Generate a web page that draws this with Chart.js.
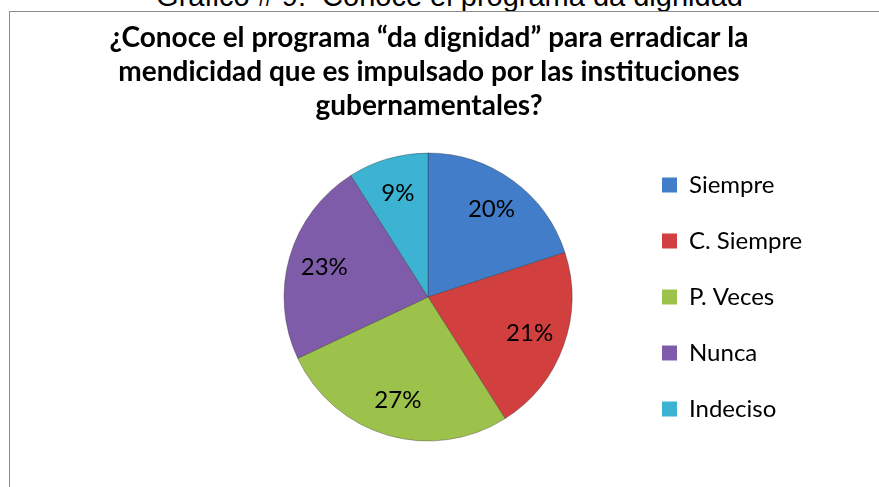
<!DOCTYPE html>
<html>
<head>
<meta charset="utf-8">
<script src="https://cdn.jsdelivr.net/npm/chart.js@4.4.1/dist/chart.umd.min.js"></script>
<style>
  html, body { margin: 0; padding: 0; background: #fff; overflow: hidden; }
  body { width: 879px; height: 487px; position: relative; }
  #caption { position: absolute; left: 0; width: 899px; top: -18.5px; text-align: center;
             font: 29px/29px "Liberation Sans", Arial, sans-serif; white-space: pre; color: #000; }
  #frame { position: absolute; left: 9px; top: 11px; width: 900px; height: 500px;
           border-left: 1px solid #8c8c8c; border-top: 1px solid #8c8c8c; background: #fff; }
  #chart { position: absolute; left: 0; top: 0; }
</style>
</head>
<body>
<div id="caption">Gráfico # 9:  Conoce el programa da dignidad</div>
<div id="frame"></div>
<canvas id="chart" width="879" height="487"></canvas>
<script>
const categories = ['Siempre', 'C. Siempre', 'P. Veces', 'Nunca', 'Indeciso'];
const percentages = [20, 21, 27, 23, 9];
const titleLines = [
  '¿Conoce el programa “da dignidad” para erradicar la',
  'mendicidad que es impulsado por las instituciones',
  'gubernamentales?'
];
const sliceColors = ['#417dc8', '#d1403e', '#9dc24c', '#7f5caa', '#3db3d3'];

// percentage text inside each slice
const pieLabels = {
  id: 'pieLabels',
  afterDatasetsDraw(chart) {
    const ctx = chart.ctx;
    const meta = chart.getDatasetMeta(0);
    ctx.save();
    ctx.font = '24px Lato';
    ctx.fillStyle = '#000';
    ctx.textAlign = 'center';
    ctx.textBaseline = 'middle';
    meta.data.forEach((arc, i) => {
      const p = arc.getProps(['x', 'y', 'startAngle', 'endAngle', 'outerRadius'], true);
      const mid = (p.startAngle + p.endAngle) / 2;
      const r = p.outerRadius * 0.75;
      ctx.fillText(percentages[i] + '%', p.x + Math.cos(mid) * r, p.y + Math.sin(mid) * r);
    });
    ctx.restore();
  }
};

function draw() {
  const baseLabels = (Chart.overrides.pie || Chart.overrides.doughnut).plugins.legend.labels.generateLabels;
  new Chart(document.getElementById('chart'), {
    type: 'pie',
    data: {
      labels: categories,
      datasets: [{
        data: percentages,
        backgroundColor: sliceColors,
        borderColor: 'rgba(40,40,40,0.35)',
        borderWidth: 1,
        radius: 144
      }]
    },
    options: {
      responsive: false,
      animation: false,
      layout: { padding: { left: 46, right: 67, top: 0, bottom: 34 } },
      plugins: {
        tooltip: { enabled: false },
        title: {
          display: true,
          text: titleLines,
          color: '#000',
          font: { family: 'Lato', weight: 'bold', size: 28, lineHeight: '34.3px' },
          padding: { top: 20.5, bottom: 17.6 }
        },
        subtitle: {
          display: true,
          position: 'left',
          text: '',
          padding: 0,
          font: { size: 12, lineHeight: '148px' }
        },
        legend: {
          position: 'right',
          align: 'end',
          fullSize: false,
          maxWidth: 150,
          labels: {
            color: '#000',
            boxWidth: 15,
            boxHeight: 15,
            padding: 0,
            font: { family: 'Lato', size: 24, lineHeight: '56px' },
            generateLabels(chart) {
              return baseLabels(chart).map(item => Object.assign(item, { text: [item.text], lineWidth: 0 }));
            }
          }
        }
      }
    },
    plugins: [pieLabels]
  });
}

if (document.fonts && document.fonts.load) {
  Promise.all([document.fonts.load('24px Lato'), document.fonts.load('bold 24px Lato')]).then(draw, draw);
} else {
  draw();
}
</script>
</body>
</html>
